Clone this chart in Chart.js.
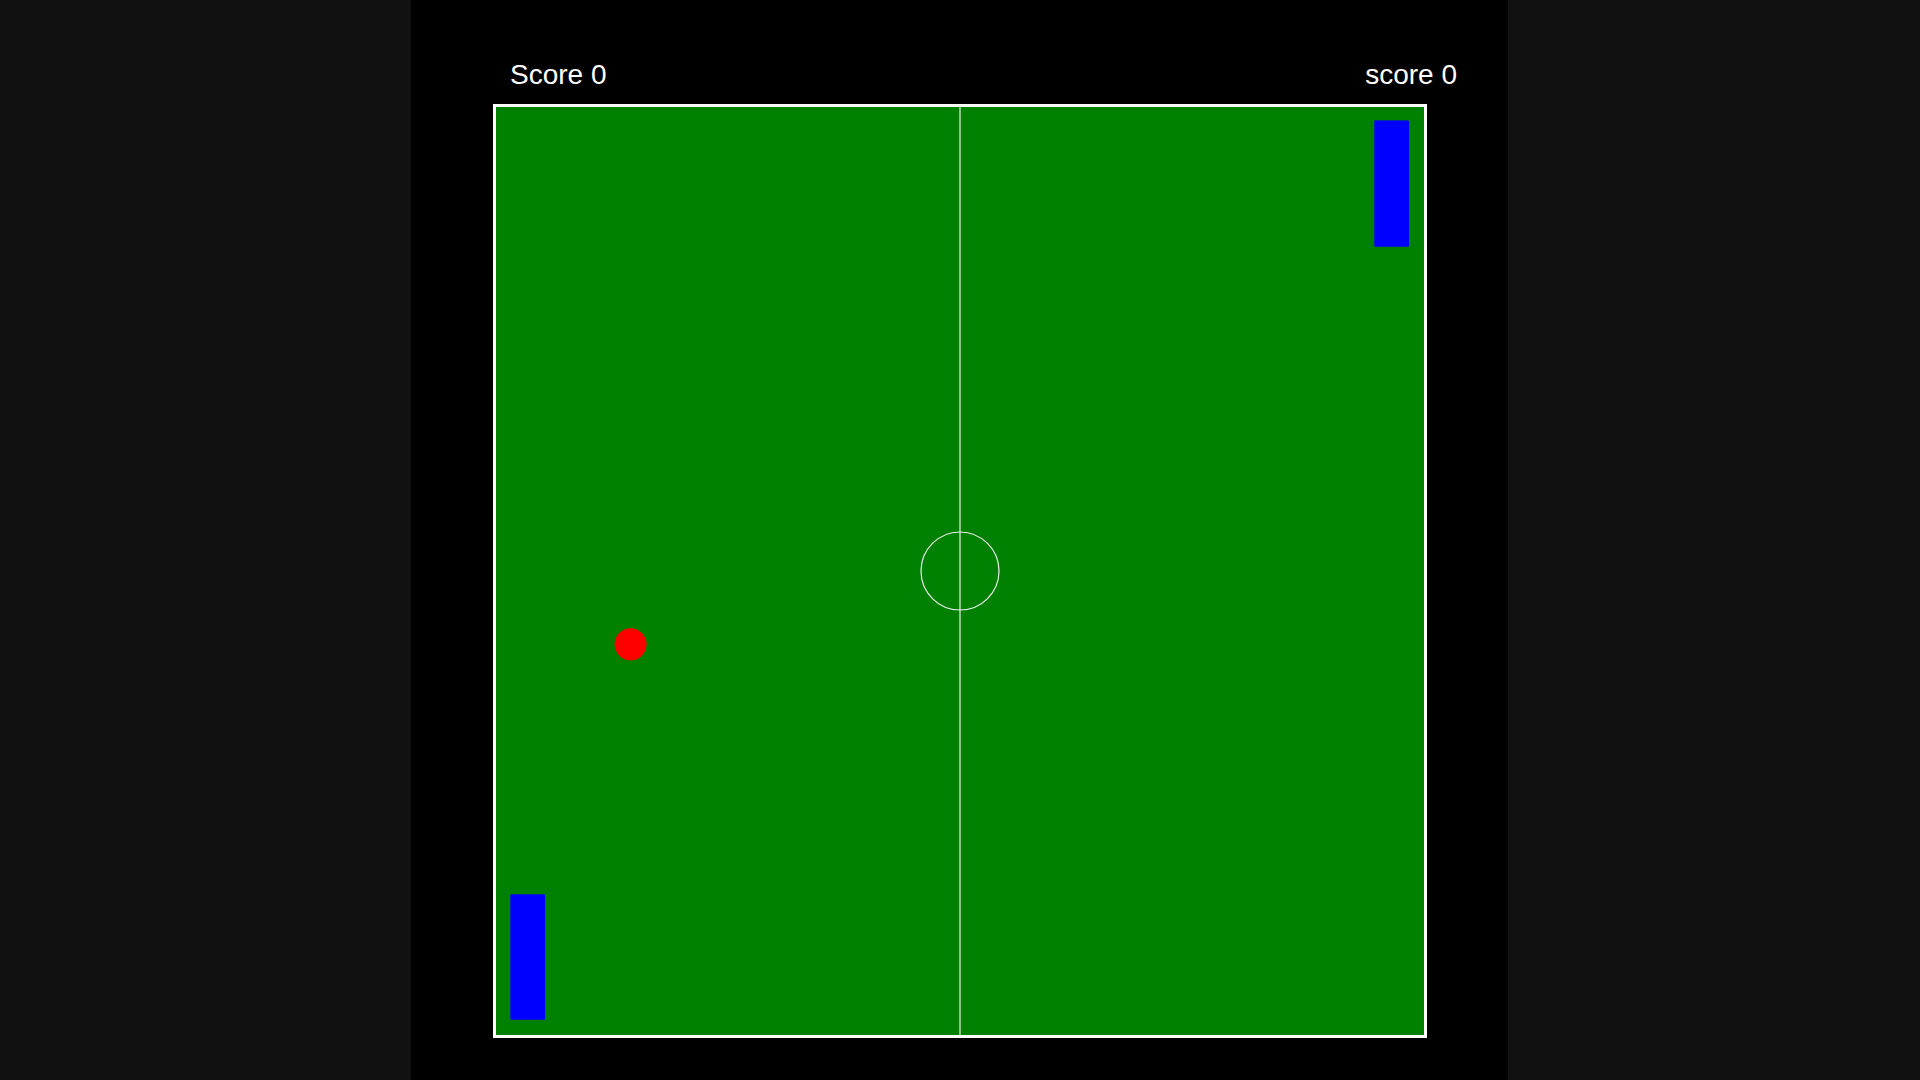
<!DOCTYPE html>
<html><head><meta charset="utf-8">
<script src="https://cdn.jsdelivr.net/npm/chart.js@4"></script>
<style>
  html,body{margin:0;padding:0;background:#111;width:1920px;height:1080px;overflow:hidden;font-family:"Liberation Sans",Arial,sans-serif}
  #panel{position:absolute;left:411px;top:0;width:1097px;height:1080px;background:#000}
  #field{position:absolute;left:493px;top:104px;width:928px;height:928px;border:3px solid #fff;background:#008000}
  .score{position:absolute;top:59px;color:#fff;font-size:28px}
</style></head>
<body>
<div id="panel"></div>
<div class="score" style="left:510px">Score 0</div>
<div class="score" style="right:463px">score 0</div>
<div id="field"><canvas id="c" width="928" height="928"></canvas></div>
<script>
// field units: 0..100 both ways, y counted from the top
const leftPaddle = [[1.6, 84.9], [5.2, 84.9], [5.2, 98.3], [1.6, 98.3], [1.6, 84.9]];
const rightPaddle = [[94.7, 1.5], [98.3, 1.5], [98.3, 15.0], [94.7, 15.0], [94.7, 1.5]];
const ball = [[14.5, 57.9]];
const centreSpot = [[50, 50]];
const midline = [[50, 0], [50, 100]];

const pts = (a) => a.map(([x, y]) => ({ x, y }));

new Chart(document.getElementById('c').getContext('2d'), {
  type: 'scatter',
  data: {
    datasets: [
      { type: 'line', data: pts(midline), borderColor: '#e8f0e8', borderWidth: 1.2, pointRadius: 0, clip: false },
      { data: pts(centreSpot), pointRadius: 39, backgroundColor: 'transparent', borderColor: '#e8f0e8', borderWidth: 1.2, clip: false },
      { type: 'line', data: pts(leftPaddle), borderColor: '#0000ff', backgroundColor: '#0000ff', borderWidth: 1, fill: 'shape', showLine: true, pointRadius: 0, tension: 0, clip: false },
      { type: 'line', data: pts(rightPaddle), borderColor: '#0000ff', backgroundColor: '#0000ff', borderWidth: 1, fill: 'shape', showLine: true, pointRadius: 0, tension: 0, clip: false },
      { data: pts(ball), pointRadius: 16, backgroundColor: '#ff0000', borderWidth: 0, clip: false }
    ]
  },
  options: {
    responsive: false,
    animation: false,
    layout: { padding: 0, autoPadding: false },
    plugins: { legend: { display: false }, tooltip: { enabled: false } },
    scales: {
      x: { type: 'linear', min: 0, max: 100, display: false },
      y: { type: 'linear', min: 0, max: 100, reverse: true, display: false }
    }
  }
});
</script>
</body></html>
